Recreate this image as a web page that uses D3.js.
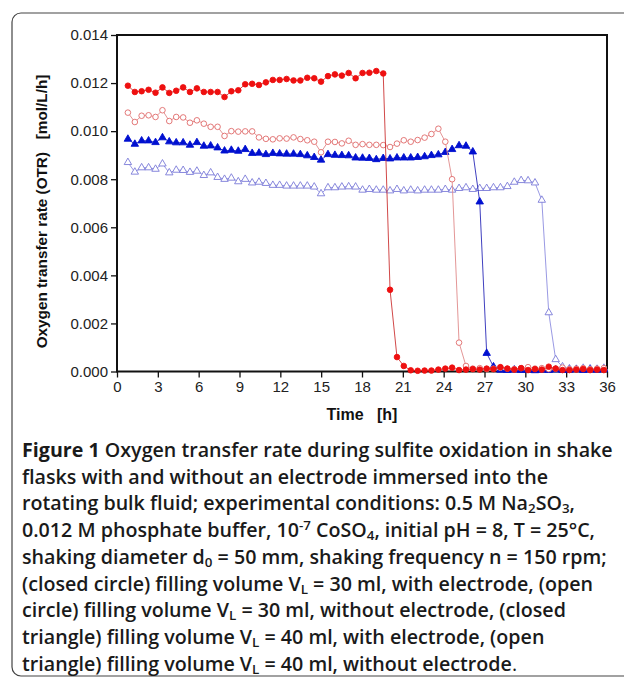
<!DOCTYPE html>
<html><head><meta charset="utf-8">
<script src="https://cdn.jsdelivr.net/npm/d3@7"></script>
<style>body{margin:0;background:#fff}svg{display:block}</style>
</head><body>
<svg id="c" width="624" height="679"></svg>
<script>
// ---- data ----
const hours = [0.8,1.31,1.81,2.32,2.83,3.34,3.84,4.35,4.86,5.36,5.87,6.38,6.88,7.39,7.9,8.4,8.91,9.42,9.93,10.43,10.94,11.45,11.95,12.46,12.97,13.47,13.98,14.49,14.99,15.5,16.01,16.52,17.02,17.53,18.04,18.54,19.05,19.56,20.06,20.57,21.07,21.58,22.09,22.6,23.1,23.61,24.12,24.62,25.13,25.64,26.14,26.65,27.16,27.66,28.17,28.68,29.19,29.69,30.2,30.71,31.21,31.72,32.23,32.73,33.24,33.75,34.25,34.76,35.27,35.77];
const closedCircle = [0.01189,0.01163,0.01166,0.01172,0.0116,0.01182,0.01159,0.01168,0.01182,0.01163,0.01178,0.01163,0.01163,0.01163,0.01142,0.01166,0.0117,0.01195,0.01197,0.01192,0.01203,
 0.01213,0.01213,0.01217,0.01211,0.01211,0.01222,0.0122,0.01206,0.01229,0.01236,0.01231,0.01242,0.0122,0.01242,0.01243,0.0125,0.0124,
 0.0034,0.0006,0.00023,0.00005,
 0.00003,0.00004,0.00004,0.00008,0.00012,0.00016,0.00006,0.00008,0.0001,0.00008,0.00012,0.0001,0.00018,0.00012,0.00008,0.00014,0.00006,0.0001,0.00008,0.0002,0.00012,0.00006,0.00006,0.00008,0.0001,0.00006,0.00008,0.00006];
const openCircle = [0.01077,0.01038,0.01064,0.01066,0.01059,0.01087,0.01042,0.01059,0.01057,0.01035,0.01045,0.01031,0.01018,0.01018,0.0098,0.01,0.00998,0.00999,0.00999,0.00974,0.00968,
 0.00966,0.0097,0.00969,0.00974,0.00967,0.00962,0.00956,0.00912,0.00956,0.00955,0.00949,0.0096,0.00943,0.00946,0.00943,0.00943,0.00942,0.00934,0.00948,0.00962,0.00956,0.00963,0.00973,0.00988,0.0101,
 0.00956,0.008,0.0012,0.00023,
 0.00012,0.00014,0.0001,0.00012,0.00016,0.00012,0.0001,0.00014,0.00018,0.00012,0.00014,0.0001,0.00012,0.00016,0.0001,0.00012,0.00014,0.0001,0.00012,0.00014];
const closedTriangle = [0.00967,0.00946,0.0096,0.0096,0.00953,0.00973,0.00956,0.00952,0.00952,0.00942,0.00953,0.00938,0.00939,0.00931,0.00918,0.00921,0.00917,0.00924,0.00908,0.00909,0.00903,
 0.00908,0.00906,0.00905,0.00905,0.00903,0.00898,0.00891,0.0088,0.00903,0.009,0.00899,0.00898,0.00889,0.00888,0.00887,0.00882,0.00887,0.00885,0.00889,0.00889,0.00889,0.00891,0.00894,0.00899,0.00902,
 0.00912,0.00924,0.0094,0.00938,0.00914,
 0.00706,0.00076,0.0002,
 0.00006,0.00005,0.00007,0.00005,0.00006,0.00004,0.00006,0.00005,0.00007,0.00005,0.00006,0.00008,0.00005,0.00007,0.00006,0.00008];
const openTriangle = [0.0087,0.0083,0.00848,0.00848,0.00842,0.00864,0.00827,0.00838,0.00837,0.00829,0.00834,0.00816,0.00827,0.00808,0.008,0.00805,0.0079,0.008,0.00785,0.00788,0.00783,0.00775,
 0.00775,0.00772,0.00772,0.00772,0.00772,0.00768,0.0074,0.00765,0.00765,0.00768,0.00769,0.00768,0.00755,0.00758,0.00755,0.00755,0.00752,0.00758,0.00752,0.00755,0.00752,0.00755,0.00755,0.00755,
 0.00758,0.00755,0.00762,0.00765,0.00758,0.00762,0.00762,0.00765,0.00765,0.0077,0.00788,0.00795,0.00794,0.00785,0.00713,
 0.00245,0.0005,0.0002,
 0.00012,0.0001,0.00014,0.00012,0.0001,0.00014];
const xTicks = [0,3,6,9,12,15,18,21,24,27,30,33,36];
const yTicks = [0,0.002,0.004,0.006,0.008,0.010,0.012,0.014];
const xTitle = "Time   [h]";
const yTitle = "Oxygen transfer rate (OTR)   [mol/L/h]";

// ---- layout ----
const svg = d3.select("#c");
const L = 117, R = 607, T = 35, B = 371.5;
const x = d3.scaleLinear().domain([0,36]).range([L,R]);
const y = d3.scaleLinear().domain([0,0.014]).range([B,T]);
const AF = "Liberation Sans, Arial, sans-serif";

// outer rounded border
svg.append("rect").attr("x",12).attr("y",13).attr("width",660).attr("height",663)
  .attr("rx",9).attr("fill","none").attr("stroke","#444").attr("stroke-width",1.2);

// axes
const yAxis = svg.append("g").attr("transform",`translate(${L},0)`)
  .call(d3.axisLeft(y).tickValues(yTicks).tickFormat(d3.format(".3f")).tickSize(6).tickPadding(3));
const xAxis = svg.append("g").attr("transform",`translate(0,${B})`)
  .call(d3.axisBottom(x).tickValues(xTicks).tickSize(6).tickPadding(4));
[yAxis,xAxis].forEach(g=>{
  g.attr("font-size",15).attr("font-family",AF);
  g.select(".domain").remove();
  g.selectAll("line").attr("stroke","#111").attr("stroke-width",1.3);
  g.selectAll("text").attr("fill","#222");
});
// frame
svg.append("rect").attr("x",L).attr("y",T).attr("width",R-L).attr("height",B-T)
  .attr("fill","none").attr("stroke","#111").attr("stroke-width",2);

// titles
svg.append("text").attr("x",362).attr("y",420).attr("text-anchor","middle")
  .attr("font-family",AF).attr("font-weight","bold").attr("font-size",16).attr("fill","#111")
  .style("white-space","pre").text(xTitle);
svg.append("text").attr("transform","translate(47,211.5) rotate(-90)").attr("text-anchor","middle")
  .attr("font-family",AF).attr("font-weight","bold").attr("font-size",15.3).attr("fill","#111")
  .style("white-space","pre").text(yTitle);

// series
const series = [
  {v:openTriangle, shape:"tri", fill:"#fff", stroke:"#7a7ad8", line:"#8d8de0"},
  {v:closedTriangle, shape:"tri", fill:"#0010d0", stroke:"#0010d0", line:"#2a2ab8"},
  {v:openCircle, shape:"circ", fill:"#fff", stroke:"#e06a6a", line:"#e08a8a"},
  {v:closedCircle, shape:"circ", fill:"#ee1010", stroke:"#ee1010", line:"#cc3333"}
];
const line = d3.line().x((d,i)=>x(hours[i])).y(d=>y(d));
const tri = d3.symbol().type(d3.symbolTriangle).size(24);
series.forEach(s=>{
  svg.append("path").attr("d",line(s.v)).attr("fill","none").attr("stroke",s.line).attr("stroke-width",0.9);
  const g = svg.append("g");
  if(s.shape==="circ"){
    g.selectAll("circle").data(s.v).join("circle")
      .attr("cx",(d,i)=>x(hours[i])).attr("cy",d=>y(d)).attr("r",2.8)
      .attr("fill",s.fill).attr("stroke",s.stroke).attr("stroke-width",0.9);
  } else {
    g.selectAll("path").data(s.v).join("path").attr("d",tri)
      .attr("transform",(d,i)=>`translate(${x(hours[i])},${y(d)})`)
      .attr("fill",s.fill).attr("stroke",s.stroke).attr("stroke-width",0.9);
  }
});

// caption
const capLines = [
  [["Figure 1",{b:1}],[" Oxygen transfer rate during sulfite oxidation in shake"]],
  [["flasks with and without an electrode immersed into the"]],
  [["rotating bulk fluid; experimental conditions: 0.5 M Na"],["2",{sub:1}],["SO"],["3",{sub:1}],[","]],
  [["0.012 M phosphate buffer, 10"],["-7",{sup:1}],[" CoSO"],["4",{sub:1}],[", initial pH = 8, T = 25°C,"]],
  [["shaking diameter d"],["0",{sub:1}],[" = 50 mm, shaking frequency n = 150 rpm;"]],
  [["(closed circle) filling volume V"],["L",{sub:1}],[" = 30 ml, with electrode, (open"]],
  [["circle) filling volume V"],["L",{sub:1}],[" = 30 ml, without electrode, (closed"]],
  [["triangle) filling volume V"],["L",{sub:1}],[" = 40 ml, with electrode, (open"]],
  [["triangle) filling volume V"],["L",{sub:1}],[" = 40 ml, without electrode"],[".",{w:400}]]
];
const cap = svg.append("g").attr("font-family","Open Sans, Noto Sans, sans-serif").attr("fill","#1a1a1a");
function drawCap(size){
  cap.selectAll("*").remove();
  capLines.forEach((ln,i)=>{
    const t = cap.append("text").attr("x",22).attr("y",457+i*26.7).attr("font-size",size).attr("font-weight",600).style("white-space","pre");
    ln.forEach(([s,o])=>{
      o = o||{};
      const sp = t.append("tspan").text(s);
      if(o.b) sp.attr("font-weight",700);
      if(o.w) sp.attr("font-weight",o.w);
      if(o.sub) sp.attr("font-size",size*0.68).attr("baseline-shift","-22%");
      if(o.sup) sp.attr("font-size",size*0.68).attr("baseline-shift","55%");
    });
  });
}
let fs = 16;
drawCap(fs);
const w0 = cap.select("text").node().getComputedTextLength();
fs = fs*591/w0;
drawCap(fs);
</script>
</body></html>
